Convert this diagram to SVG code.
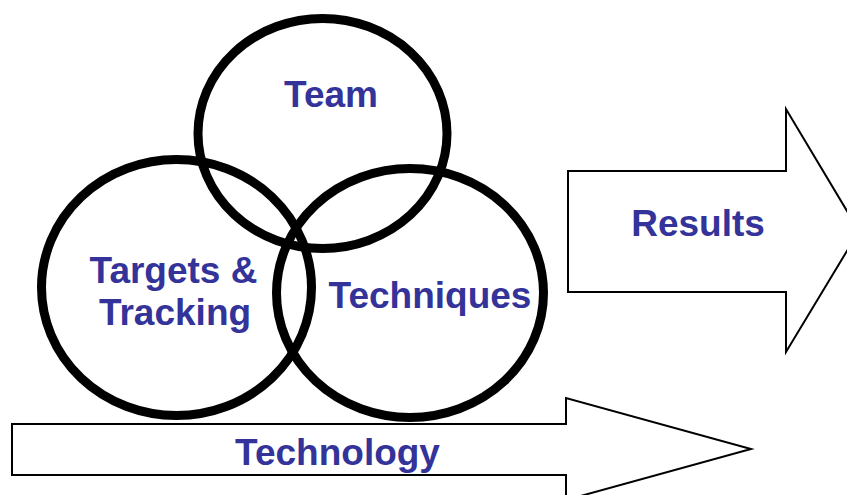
<svg xmlns="http://www.w3.org/2000/svg" width="847" height="495" viewBox="0 0 847 495">
<style>
.ring{fill:none;stroke:#000;stroke-width:9}
.arrow{fill:#fff;stroke:#000;stroke-width:2}
.lbl{font-family:"Liberation Sans",Arial,sans-serif;font-weight:bold;font-size:37px;fill:#333399;text-anchor:middle}
</style>
<rect width="847" height="495" fill="#fff"/>
<g id="connectors">
<path id="results-arrow" class="arrow" d="M568,171 L786,171 L786,109 L859,231 L786,352 L786,292 L568,292 Z"/>
<path id="technology-arrow" class="arrow" d="M12,424 L566,424 L566,398 L751,449 L566,500 L566,475 L12,475 Z"/>
</g>
<g id="team">
<ellipse class="ring" cx="322.5" cy="133.5" rx="124.5" ry="115"/>
<text class="lbl" x="331" y="107">Team</text>
</g>
<g id="targets">
<ellipse class="ring" cx="176.5" cy="287.5" rx="135" ry="128"/>
<text class="lbl" x="173.5" y="283">Targets &amp;</text>
<text class="lbl" x="175" y="325">Tracking</text>
</g>
<g id="techniques">
<ellipse class="ring" cx="410" cy="293" rx="133.5" ry="124.5"/>
<text class="lbl" x="430" y="308">Techniques</text>
</g>
<g id="results">
<text class="lbl" x="698" y="236">Results</text>
</g>
<g id="technology">
<text class="lbl" x="337.5" y="465">Technology</text>
</g>
</svg>
